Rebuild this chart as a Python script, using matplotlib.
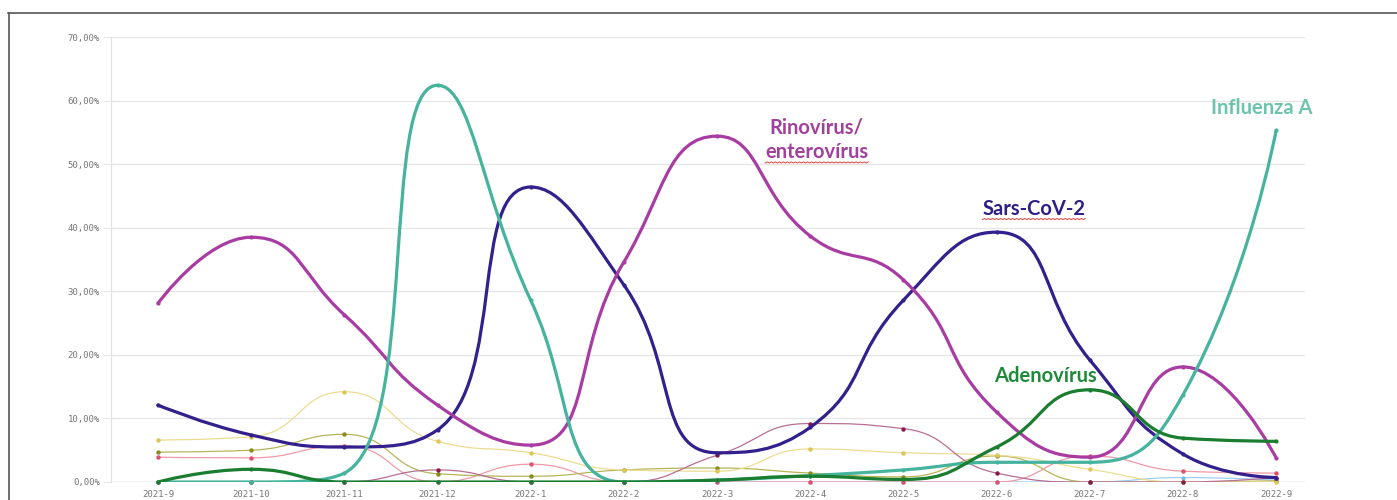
import numpy as np
import matplotlib
matplotlib.use("Agg")
import matplotlib.pyplot as plt
from matplotlib.path import Path
from matplotlib.patches import PathPatch
from matplotlib.ticker import FuncFormatter

# ── data (positivity %) ─────────────────────────────────────────────────────
months = ['2021-9', '2021-10', '2021-11', '2021-12', '2022-1', '2022-2', '2022-3',
          '2022-4', '2022-5', '2022-6', '2022-7', '2022-8', '2022-9']

rinovirus  = [28.1, 38.5, 26.3, 12.1, 5.8, 34.6, 54.4, 38.7, 31.8, 11.0, 3.9, 18.1, 3.8]
sars_cov2  = [12.1, 7.4, 5.5, 8.2, 46.4, 31.0, 4.6, 8.6, 28.6, 39.3, 19.2, 4.4, 0.7]
influenza  = [0.0, 0.0, 1.4, 62.4, 28.6, 0.0, 0.3, 1.0, 1.9, 3.1, 3.1, 13.7, 55.3]
adenovirus = [0.0, 2.0, 0.0, 0.0, 0.0, 0.0, 0.3, 0.9, 0.4, 5.5, 14.5, 6.9, 6.4]

pale_yellow = [6.6, 7.1, 14.2, 6.4, 4.6, 1.9, 1.7, 5.2, 4.6, 4.2, 2.0, 0.0, 0.0]
olive       = [4.7, 5.0, 7.5, 1.3, 0.9, 1.9, 2.2, 1.4, 0.8, 4.1, 0.0, 0.0, 0.2]
pink        = [3.9, 3.8, 5.7, 0.0, 2.8, 0.0, 0.0, 0.0, 0.0, 0.0, 4.1, 1.7, 1.4]
mauve       = [0.0, 0.0, 0.0, 1.9, 0.0, 0.0, 4.2, 9.2, 8.4, 1.4, 0.0, 0.0, 0.7]
light_blue  = [0.0, 0.0, 0.0, 0.0, 0.0, 0.0, 0.0, 0.0, 0.0, 0.0, 0.0, 0.7, 0.3]

y_ticks = [0, 10, 20, 30, 40, 50, 60, 70]


def smooth_path(ax, xs, ys, smooth=0.5):
    """Monotone-clamped bezier smoothing in screen space (like echarts smooth lines)."""
    P = ax.transData.transform(np.column_stack([xs, ys]))
    n = len(P)
    verts, codes = [P[0]], [Path.MOVETO]
    cp0 = P[0].copy()
    for k in range(1, n):
        x, y = P[k]
        if k == n - 1:
            cp1 = P[k].copy()
            ncp0 = P[k].copy()
        else:
            px, py = P[k - 1]
            nx, ny = P[k + 1]
            vx, vy = nx - px, ny - py
            l_prev = np.hypot(x - px, y - py)
            l_next = np.hypot(nx - x, ny - y)
            r = l_next / (l_next + l_prev)
            ncx = x + vx * smooth * r
            ncy = y + vy * smooth * r
            ncx = np.clip(ncx, min(nx, x), max(nx, x))
            ncy = np.clip(ncy, min(ny, y), max(ny, y))
            vx, vy = ncx - x, ncy - y
            c1x = np.clip(x - vx * l_prev / l_next, min(px, x), max(px, x))
            c1y = np.clip(y - vy * l_prev / l_next, min(py, y), max(py, y))
            vx, vy = x - c1x, y - c1y
            ncx = x + vx * l_next / l_prev
            ncy = y + vy * l_next / l_prev
            cp1 = np.array([c1x, c1y])
            ncp0 = np.array([ncx, ncy])
        verts += [cp0, cp1, P[k]]
        codes += [Path.CURVE4] * 3
        cp0 = ncp0
    verts = ax.transData.inverted().transform(np.array(verts))
    return Path(verts, codes)


def draw_series(ax, ys, color, lw, mcolor, ms, z):
    xs = np.arange(len(ys))
    ax.add_patch(PathPatch(smooth_path(ax, xs, ys), fill=False, edgecolor=color,
                           linewidth=lw, capstyle='round', joinstyle='round', zorder=z))
    ax.plot(xs, ys, linestyle='none', marker='o', markersize=ms, color=mcolor,
            markeredgewidth=0, zorder=z + 0.1, clip_on=False)


def squiggle(fig, txt, renderer, color='#e8453c'):
    bb = txt.get_window_extent(renderer=renderer)
    x = np.linspace(bb.x0, bb.x1, int((bb.x1 - bb.x0) / 2) + 1)
    y = bb.y0 - 1.0 + 1.2 * (np.arange(len(x)) % 2)
    pts = fig.transFigure.inverted().transform(np.column_stack([x, y]))
    fig.add_artist(plt.Line2D(pts[:, 0], pts[:, 1], color=color, lw=0.7))


fig = plt.figure(figsize=(13.97, 5.0), dpi=100)
ax = fig.add_axes([111 / 1397, 18 / 500, (1305 - 111) / 1397, (482 - 37) / 500])
ax.set_xlim(-0.504, 12.31)
ax.set_ylim(0, 70)

# frame around the figure (top + left border of the screenshot)
fig.add_artist(plt.Line2D([8 / 1397, 1], [1 - 13 / 500] * 2, color='#555555', lw=1.2))
fig.add_artist(plt.Line2D([9 / 1397] * 2, [0, 1 - 13 / 500], color='#555555', lw=1.2))

# axes styling
for s in ['top', 'right', 'bottom']:
    ax.spines[s].set_visible(False)
ax.spines['left'].set_color('#e2e2e2')
ax.set_yticks(y_ticks)
ax.yaxis.set_major_formatter(FuncFormatter(lambda v, _: f"{v:.2f}%".replace('.', ',')))
ax.grid(axis='y', color='#e6e6e6', linewidth=1.0)
ax.axhline(0, color='#cfcfcf', linewidth=1.0, zorder=1)
ax.tick_params(axis='y', length=6, color='#e6e6e6', labelsize=6.5, labelcolor='#777777', pad=2)
ax.set_xticks(range(len(months)))
ax.set_xticklabels(months)
ax.tick_params(axis='x', length=0, labelsize=6.5, labelcolor='#777777', pad=6)
for lab in ax.get_xticklabels() + ax.get_yticklabels():
    lab.set_family('DejaVu Sans Mono')
ax.set_axisbelow(True)

# thin background series
draw_series(ax, light_blue,  '#9ccff2', 0.9, '#7ab8ea', 3.0, 2)
draw_series(ax, pink,        '#ee9aa8', 0.9, '#e0506c', 3.2, 2)
draw_series(ax, olive,       '#b5b55a', 0.9, '#8c8c1e', 3.2, 2)
draw_series(ax, pale_yellow, '#ecdc92', 0.9, '#dcc656', 3.2, 2)
draw_series(ax, mauve,       '#b86e94', 0.9, '#8a1a4c', 3.2, 2)

# main series
draw_series(ax, sars_cov2,  '#33208c', 2.3, '#33208c', 3.0, 4)
draw_series(ax, rinovirus,  '#a83ca2', 2.3, '#a83ca2', 3.0, 4)
draw_series(ax, influenza,  '#45b39d', 2.3, '#45b39d', 3.0, 5)
draw_series(ax, adenovirus, '#1b7d30', 2.3, '#1b7d30', 3.0, 5)

lab_font = dict(family=['Lato', 'DejaVu Sans'], fontsize=14.5, fontweight='bold',
                ha='center', va='center', zorder=6)
ax.text(7.07, 55.8, 'Rinovírus/', color='#a2419c', **lab_font)
t_ent = ax.text(7.07, 51.9, 'enterovírus', color='#a2419c', **lab_font)
t_sars = ax.text(9.4, 43.0, 'Sars-CoV-2', color='#2f1e86', **lab_font)
ax.text(9.52, 16.7, 'Adenovírus', color='#1e8a3a', **lab_font)
ax.text(11.85, 58.9, 'Influenza A', color='#6cc4ad', **lab_font)

renderer = fig.canvas.get_renderer()
squiggle(fig, t_ent, renderer)
squiggle(fig, t_sars, renderer)

fig.savefig('out.png', dpi=100)
